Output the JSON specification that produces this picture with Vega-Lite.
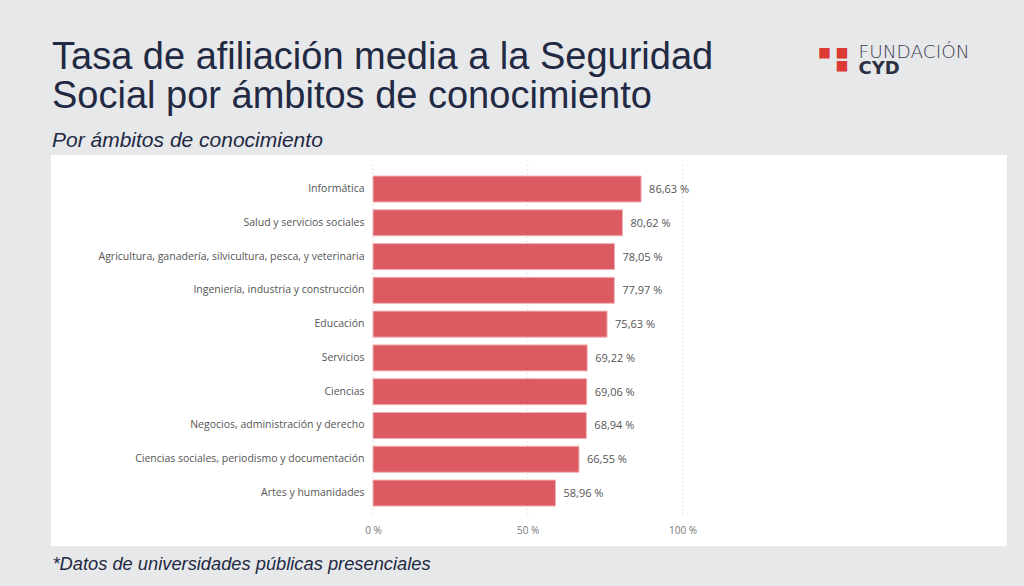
{
  "$schema": "https://vega.github.io/schema/vega-lite/v6.json",
  "autosize": "none",
  "width": 940,
  "height": 375,
  "padding": {"left": 59, "top": 163, "right": 25, "bottom": 48},
  "background": "#e7e8ea",
  "title": {
    "text": ["Tasa de afiliación media a la Seguridad", "Social por ámbitos de conocimiento"],
    "subtitle": "Por ámbitos de conocimiento",
    "anchor": "start",
    "frame": "group",
    "dx": -7,
    "offset": -109,
    "font": "Liberation Sans",
    "fontSize": 38,
    "fontWeight": "normal",
    "color": "#222943",
    "lineHeight": 39.5,
    "subtitleFont": "Liberation Sans",
    "subtitleFontSize": 21,
    "subtitleFontStyle": "italic",
    "subtitleColor": "#222943",
    "subtitlePadding": 14
  },
  "data": {
    "values": [
      {"cat": "Informática", "v": 86.63},
      {"cat": "Salud y servicios sociales", "v": 80.62},
      {"cat": "Agricultura, ganadería, silvicultura, pesca, y veterinaria", "v": 78.05},
      {"cat": "Ingeniería, industria y construcción", "v": 77.97},
      {"cat": "Educación", "v": 75.63},
      {"cat": "Servicios", "v": 69.22},
      {"cat": "Ciencias", "v": 69.06},
      {"cat": "Negocios, administración y derecho", "v": 68.94},
      {"cat": "Ciencias sociales, periodismo y documentación", "v": 66.55},
      {"cat": "Artes y humanidades", "v": 58.96}
    ]
  },
  "layer": [
    {
      "data": {"values": [{"t": 0}, {"t": 50}, {"t": 100}]},
      "mark": {"type": "rule", "color": "#c9c9c9", "strokeDash": [1, 3], "strokeWidth": 1, "yOffset": -24, "y2Offset": 22},
      "encoding": {
        "x": {"field": "t", "type": "quantitative", "axis": null},
        "y": {"datum": "Informática", "type": "nominal", "axis": null},
        "y2": {"datum": "Artes y humanidades"}
      }
    },
    {
      "mark": {"type": "bar", "color": "#dc5b63", "stroke": "#f1b3b6", "strokeWidth": 1},
      "encoding": {
        "x": {
          "field": "v",
          "type": "quantitative",
          "scale": {"domain": [-101.45, 202.26], "nice": false, "zero": false},
          "axis": {
            "values": [0, 50, 100],
            "format": "$.0f",
            "grid": false,
            "domain": false,
            "ticks": false,
            "tickSize": 0,
            "offset": -15,
            "labelPadding": 2,
            "labelFont": "Open Sans",
            "labelFontSize": 10,
            "labelColor": "#777777",
            "title": "*Datos de universidades públicas presenciales",
            "titleX": -7,
            "titleY": 46,
            "titleAlign": "left",
            "titleBaseline": "alphabetic",
            "titleFont": "Liberation Sans",
            "titleFontSize": 18.3,
            "titleFontStyle": "italic",
            "titleFontWeight": "normal",
            "titleColor": "#222943"
          }
        },
        "y": {
          "field": "cat",
          "type": "nominal",
          "sort": null,
          "scale": {
            "domain": ["Informática", "Salud y servicios sociales", "Agricultura, ganadería, silvicultura, pesca, y veterinaria", "Ingeniería, industria y construcción", "Educación", "Servicios", "Ciencias", "Negocios, administración y derecho", "Ciencias sociales, periodismo y documentación", "Artes y humanidades"],
            "paddingInner": 0.23,
            "paddingOuter": 0.665,
            "align": 0.289
          },
          "axis": {
            "domain": false,
            "ticks": false,
            "tickSize": 0,
            "grid": false,
            "offset": -307,
            "labelPadding": 2,
            "labelFont": "Open Sans",
            "labelFontSize": 10.5,
            "labelColor": "#555555",
            "labelLimit": 400,
            "title": "FUNDACIÓN",
            "titleX": 492,
            "titleY": -106,
            "titleAngle": 0,
            "titleAlign": "left",
            "titleBaseline": "alphabetic",
            "titleFont": "DejaVu Sans",
            "titleFontSize": 18.5,
            "titleFontWeight": 300,
            "titleColor": "#3b4050"
          }
        }
      }
    },
    {
      "mark": {"type": "text", "align": "left", "baseline": "middle", "dx": 8, "dy": 1, "font": "Open Sans", "fontSize": 11, "color": "#555555"},
      "encoding": {
        "x": {
          "field": "v",
          "type": "quantitative",
          "axis": {
            "orient": "top",
            "labels": false,
            "ticks": false,
            "domain": false,
            "grid": false,
            "title": "CYD",
            "titleX": 799,
            "titleY": -89.5,
            "titleAlign": "left",
            "titleBaseline": "alphabetic",
            "titleFont": "DejaVu Sans",
            "titleFontSize": 18,
            "titleFontWeight": "bold",
            "titleColor": "#2b3042"
          }
        },
        "y": {
          "field": "cat",
          "type": "nominal",
          "sort": null,
          "axis": {
            "orient": "right",
            "labels": false,
            "ticks": false,
            "domain": false,
            "grid": false,
            "title": ["■ ■", "■"],
            "titleX": -151,
            "titleY": -118,
            "titleAngle": 0,
            "titleAlign": "right",
            "titleBaseline": "top",
            "titleFont": "DejaVu Sans",
            "titleFontSize": 13.5,
            "titleLineHeight": 13.5,
            "titleColor": "#dc3b35"
          }
        },
        "text": {"field": "v", "type": "quantitative", "format": "$.2f"}
      }
    }
  ],
  "resolve": {"axis": {"x": "independent", "y": "independent"}},
  "config": {
    "view": {"fill": "white", "stroke": "white", "strokeWidth": 16},
    "locale": {"number": {"decimal": ",", "thousands": ".", "grouping": [3], "currency": ["", " %"]}}
  }
}
